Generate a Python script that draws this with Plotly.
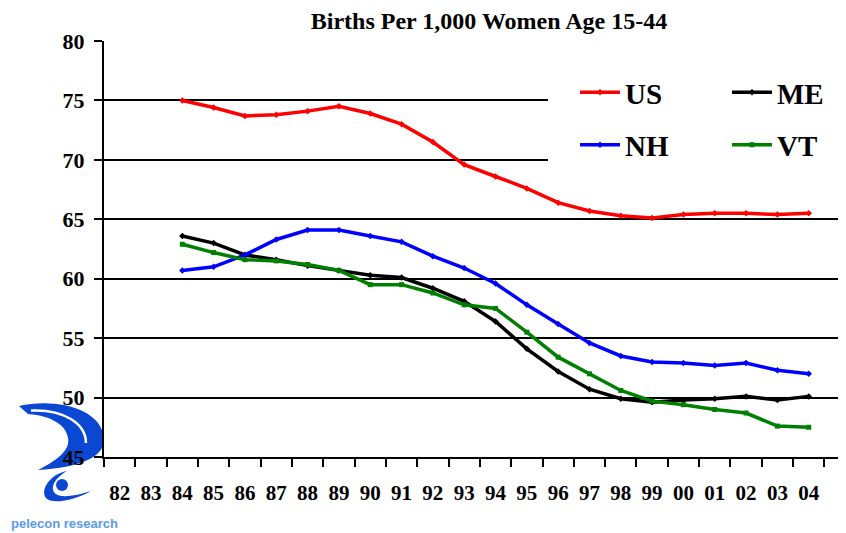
"""Births per 1,000 women age 15-44: US vs northern New England states."""

import plotly.graph_objects as go

# ------------------------------------------------------------------
# Data
# ------------------------------------------------------------------
ALL_YEARS = ["82", "83", "84", "85", "86", "87", "88", "89", "90", "91", "92",
             "93", "94", "95", "96", "97", "98", "99", "00", "01", "02", "03", "04"]
YEARS = ALL_YEARS[2:]  # series start in 1984

US = [75.0, 74.4, 73.7, 73.8, 74.1, 74.5, 73.9, 73.0, 71.5, 69.6, 68.6,
      67.6, 66.4, 65.7, 65.3, 65.1, 65.4, 65.5, 65.5, 65.4, 65.5]
ME = [63.6, 63.0, 62.0, 61.6, 61.1, 60.7, 60.3, 60.1, 59.2, 58.1, 56.4,
      54.1, 52.2, 50.7, 49.9, 49.6, 49.8, 49.9, 50.1, 49.8, 50.1]
NH = [60.7, 61.0, 62.0, 63.3, 64.1, 64.1, 63.6, 63.1, 61.9, 60.9, 59.6,
      57.8, 56.2, 54.6, 53.5, 53.0, 52.9, 52.7, 52.9, 52.3, 52.0]
VT = [62.9, 62.2, 61.6, 61.5, 61.2, 60.7, 59.5, 59.5, 58.8, 57.8, 57.5,
      55.5, 53.4, 52.0, 50.6, 49.7, 49.4, 49.0, 48.7, 47.6, 47.5]

Y_TICKS = [45, 50, 55, 60, 65, 70, 75, 80]

SERIF = "Liberation Serif, Times New Roman, serif"
LOGO_BLUE = "#0a48d4"

# page geometry (px). The browser puts an 8px margin round the body,
# so the figure is made 8px smaller and everything is laid out in
# window pixels, then shifted.
OFF = 8
W, H = 846 - OFF, 533 - OFF
ML, MR, MT = 104 - OFF, 0, 41 - OFF
MB = H - (457 - OFF)
PW, PH = W - ML - MR, H - MT - MB


def px(x, y):
    """window pixel position -> paper coords"""
    return (x - OFF - ML) / PW, (H - MB - (y - OFF)) / PH


def path(cmds, close=True):
    """build an svg path in paper coords from (cmd, [x, y, ...]) in px"""
    out = []
    for c, pts in cmds:
        s = c
        for i in range(0, len(pts), 2):
            xp, yp = px(pts[i], pts[i + 1])
            s += f"{xp:.4f},{yp:.4f} "
        out.append(s.strip())
    return " ".join(out) + (" Z" if close else "")


fig = go.Figure()

series = [
    ("US", US, "#ff0000", "diamond", "legend"),
    ("ME", ME, "#000000", "diamond", "legend"),
    ("NH", NH, "#0000ff", "diamond", "legend2"),
    ("VT", VT, "#008000", "square", "legend2"),
]
for name, vals, color, sym, leg in series:
    fig.add_trace(go.Scatter(
        x=YEARS, y=vals, name="<b>%s</b>" % name, mode="lines+markers",
        line=dict(color=color, width=3.5),
        marker=dict(color=color, size=5, symbol=sym),
        legend=leg,
    ))

# white patch behind the legend (hides the 75/70 gridlines there)
x0, y1 = px(548, 60)
x1, y0 = px(846 + 5, 185)
fig.add_shape(type="rect", xref="paper", yref="paper",
              x0=x0, x1=x1, y0=y0, y1=y1,
              fillcolor="white", line_width=0, layer="above")

# --- pelecon logo (approximate) ---
fig.add_shape(type="path", xref="paper", yref="paper", layer="below",
              fillcolor=LOGO_BLUE, line_width=0,
              path=path([("M", [19, 406]),
                         ("C", [55, 398, 101, 408, 104, 438]),
                         ("C", [106, 458, 76, 468, 38, 470]),
                         ("C", [62, 458, 70, 448, 68, 438]),
                         ("C", [66, 425, 52, 416, 28, 414])]))
fig.add_shape(type="path", xref="paper", yref="paper", layer="below",
              line=dict(color="white", width=2.5),
              path=path([("M", [31, 410.5]),
                         ("C", [64, 409, 86, 424, 86, 443])], close=False))
fig.add_shape(type="path", xref="paper", yref="paper", layer="below",
              fillcolor=LOGO_BLUE, line_width=0,
              path=path([("M", [67, 471]),
                         ("C", [50, 474, 40, 490, 46, 498]),
                         ("C", [52, 505, 75, 500, 91, 491]),
                         ("C", [75, 496, 58, 499, 54, 492]),
                         ("C", [50, 485, 58, 476, 67, 471])]))
cx0, cy0 = px(56, 479)
cx1, cy1 = px(68, 491)
fig.add_shape(type="circle", xref="paper", yref="paper", layer="below",
              x0=cx0, y0=cy0, x1=cx1, y1=cy1,
              fillcolor=LOGO_BLUE, line_width=0)
fig.add_annotation(text="<b>pelecon research</b>", xref="paper", yref="paper",
                   x=px(64, 0)[0], y=px(0, 523)[1], showarrow=False,
                   xanchor="center", yanchor="middle",
                   font=dict(family="Liberation Sans, Arial, sans-serif",
                             size=13, color="#5b9ae8"))

legend_common = dict(
    orientation="h", xref="paper", yref="paper", xanchor="left",
    yanchor="middle", bgcolor="rgba(0,0,0,0)", borderwidth=0,
    entrywidth=97, entrywidthmode="pixels", itemwidth=40,
    font=dict(family=SERIF, size=29, color="black"),
)

fig.update_layout(
    width=W, height=H,
    margin=dict(l=ML, r=MR, t=MT, b=MB, autoexpand=False),
    paper_bgcolor="white", plot_bgcolor="white",
    font=dict(family=SERIF, color="black"),
    title=dict(text="<b>Births Per 1,000 Women Age 15-44</b>",
               x=(489 - OFF) / W, xref="container", xanchor="center",
               y=1.0, yref="container", yanchor="top",
               pad=dict(t=4, b=0),
               font=dict(family=SERIF, size=24, color="black")),
    legend=dict(x=px(575, 0)[0], y=px(0, 92.5)[1], **legend_common),
    legend2=dict(x=px(575, 0)[0], y=px(0, 145)[1], **legend_common),
    xaxis=dict(
        type="category", categoryorder="array", categoryarray=ALL_YEARS,
        range=[-0.5, 23.19], tickson="boundaries", tickangle=0,
        ticks="outside", ticklen=8, tickwidth=2, tickcolor="black",
        showline=True, linecolor="black", linewidth=2,
        showgrid=False, zeroline=False, ticklabelstandoff=16,
        ticktext=["<b>%s</b>" % y for y in ALL_YEARS], tickvals=ALL_YEARS,
        tickfont=dict(family=SERIF, size=21, color="black"),
    ),
    yaxis=dict(
        range=[45, 80], tickvals=Y_TICKS,
        ticktext=["<b>%d</b>" % v for v in Y_TICKS],
        ticks="outside", ticklen=8, tickwidth=2, tickcolor="black",
        showline=True, linecolor="black", linewidth=2,
        showgrid=True, gridcolor="black", gridwidth=2, zeroline=False,
        ticklabelstandoff=5,
        tickfont=dict(family=SERIF, size=22, color="black"),
    ),
)

fig.write_html("out.html")
